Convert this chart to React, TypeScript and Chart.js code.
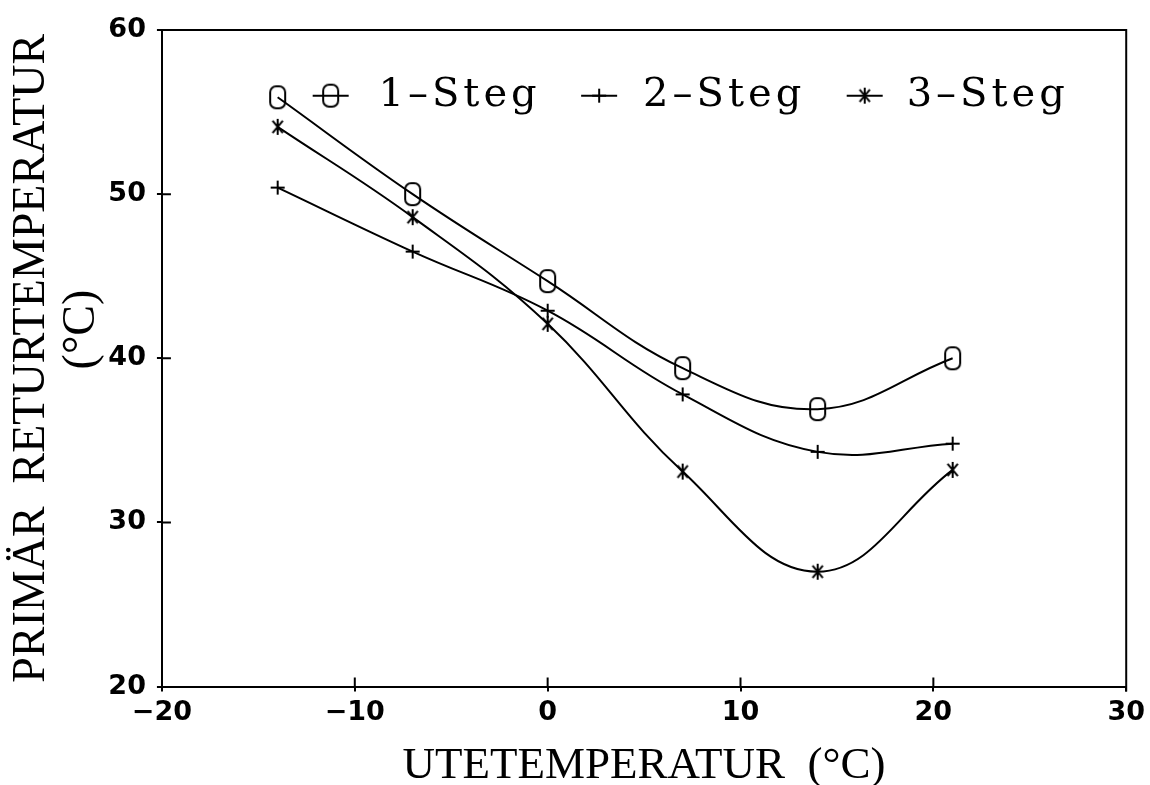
import React, { useEffect, useRef } from 'react';
import { Chart, registerables } from 'chart.js';

Chart.register(...registerables);

// ---- data ----
const xValues = [-14, -7, 0, 7, 14, 21];
const steg1 = [55.9, 50.0, 44.7, 39.4, 36.9, 40.0];
const steg2 = [50.4, 46.5, 42.9, 37.8, 34.3, 34.8];
const steg3 = [54.1, 48.6, 42.1, 33.1, 27.0, 33.2];
const seriesLabels = ['1\u2013Steg', '2\u2013Steg', '3\u2013Steg'];

const xMin = -20;
const xMax = 30;
const xStep = 10;
const yMin = 20;
const yMax = 60;
const yStep = 10;

const xTitle = 'UTETEMPERATUR  (\u00B0C)';
const yTitle = ['PRIM\u00C4R  RETURTEMPERATUR', '     (\u00B0C)'];

// ---- marker images ----
function makeRoundRect(): HTMLCanvasElement {
  const c = document.createElement('canvas');
  c.width = 19;
  c.height = 26;
  const g = c.getContext('2d')!;
  const x = 2, y = 2, w = 15, h = 22, r = 6;
  g.strokeStyle = '#000';
  g.lineWidth = 2;
  g.beginPath();
  g.moveTo(x + r, y);
  g.arcTo(x + w, y, x + w, y + h, r);
  g.arcTo(x + w, y + h, x, y + h, r);
  g.arcTo(x, y + h, x, y, r);
  g.arcTo(x, y, x + w, y, r);
  g.closePath();
  g.stroke();
  return c;
}

function makePlus(): HTMLCanvasElement {
  const c = document.createElement('canvas');
  c.width = 16;
  c.height = 16;
  const g = c.getContext('2d')!;
  g.strokeStyle = '#000';
  g.lineWidth = 2;
  g.beginPath();
  g.moveTo(1, 8); g.lineTo(15, 8);
  g.moveTo(8, 1); g.lineTo(8, 15);
  g.stroke();
  return c;
}

function makeAsterisk(): HTMLCanvasElement {
  const c = document.createElement('canvas');
  c.width = 20;
  c.height = 20;
  const g = c.getContext('2d')!;
  g.strokeStyle = '#000';
  g.lineWidth = 2;
  const cx = 10, cy = 10, r = 8;
  g.beginPath();
  g.moveTo(cx, cy - r); g.lineTo(cx, cy + r);
  const a = (50 * Math.PI) / 180;
  g.moveTo(cx - r * Math.cos(a), cy - r * Math.sin(a));
  g.lineTo(cx + r * Math.cos(a), cy + r * Math.sin(a));
  g.moveTo(cx - r * Math.cos(a), cy + r * Math.sin(a));
  g.lineTo(cx + r * Math.cos(a), cy - r * Math.sin(a));
  g.stroke();
  return c;
}

// legend layout (fractions of the chart area)
const legendMarkerX = [0.175, 0.4534, 0.7288];
const legendTextX = [0.2246, 0.499, 0.7723];
const legendY = 0.1;

const framePlugin = {
  id: 'frameAndInnerTicks',
  afterDraw(chart: any) {
    const { ctx, chartArea, scales } = chart;
    const { left, right, top, bottom } = chartArea;
    ctx.save();
    ctx.strokeStyle = '#000';
    ctx.lineWidth = 2;
    ctx.beginPath();
    ctx.moveTo(left - 1, top);
    ctx.lineTo(right, top);
    ctx.lineTo(right, bottom + 5);
    ctx.stroke();
    // inward ticks
    const xs = scales.x;
    const ys = scales.y;
    ctx.beginPath();
    xs.ticks.forEach((t: any) => {
      if (t.value <= xMin || t.value >= xMax) return;
      const px = xs.getPixelForValue(t.value);
      ctx.moveTo(px, bottom);
      ctx.lineTo(px, bottom - 9);
    });
    ys.ticks.forEach((t: any) => {
      if (t.value <= yMin || t.value >= yMax) return;
      const py = ys.getPixelForValue(t.value);
      ctx.moveTo(left, py);
      ctx.lineTo(left + 9, py);
    });
    ctx.stroke();
    ctx.restore();
  },
};

const legendPlugin = {
  id: 'inlineLegend',
  afterDraw(chart: any) {
    const { ctx, chartArea } = chart;
    const { left, top } = chartArea;
    const w = chartArea.right - chartArea.left;
    const h = chartArea.bottom - chartArea.top;
    const y = top + legendY * h;
    ctx.save();
    chart.data.datasets.forEach((ds: any, i: number) => {
      const mx = left + legendMarkerX[i] * w;
      ctx.strokeStyle = '#000';
      ctx.lineWidth = 2;
      ctx.beginPath();
      ctx.moveTo(mx - 18, y);
      ctx.lineTo(mx + 18, y);
      ctx.stroke();
      const img = ds.pointStyle as HTMLCanvasElement;
      ctx.drawImage(img, mx - img.width / 2, y - img.height / 2);
      ctx.fillStyle = '#000';
      ctx.font = '40px "DejaVu Serif"';
      (ctx as any).letterSpacing = '4px';
      ctx.textAlign = 'left';
      ctx.textBaseline = 'middle';
      ctx.fillText(ds.label, left + legendTextX[i] * w, y);
    });
    ctx.restore();
  },
};

export default function App() {
  const canvasRef = useRef<HTMLCanvasElement | null>(null);

  useEffect(() => {
    if (!canvasRef.current) return;
    const markers = [makeRoundRect(), makePlus(), makeAsterisk()];
    const series = [steg1, steg2, steg3];
    const datasets = series.map((vals, i) => ({
      label: seriesLabels[i],
      data: xValues.map((x, j) => ({ x, y: vals[j] })),
      borderColor: '#000',
      backgroundColor: 'rgba(0,0,0,0)',
      borderWidth: 2,
      tension: 0.4,
      fill: false,
      pointStyle: markers[i],
      pointRadius: 8,
      pointHoverRadius: 8,
    }));

    const tickFont = { family: '"DejaVu Sans"', size: 27, weight: 'bold' as const, lineHeight: 1.2 };
    const fmt = (v: any) => String(v).replace('-', '\u2212');

    const chart = new Chart(canvasRef.current, {
      type: 'line',
      data: { datasets },
      options: {
        responsive: false,
        animation: false,
        layout: { padding: { top: 30, right: 22, left: 0, bottom: 0 } },
        plugins: {
          legend: { display: false },
          tooltip: { enabled: false },
        },
        scales: {
          x: {
            type: 'linear',
            min: xMin,
            max: xMax,
            ticks: {
              stepSize: xStep,
              color: '#000',
              font: tickFont,
              padding: 5,
              maxRotation: 0,
              callback: fmt,
            },
            grid: {
              display: true,
              drawOnChartArea: false,
              drawTicks: true,
              tickLength: 5,
              color: '#000',
              lineWidth: 2,
            },
            border: { display: true, color: '#000', width: 2 },
            title: {
              display: true,
              text: xTitle,
              color: '#000',
              font: { family: '"Liberation Serif"', size: 45, lineHeight: 0.8 },
              padding: { top: 14, bottom: 1 },
            },
          },
          y: {
            type: 'linear',
            min: yMin,
            max: yMax,
            ticks: {
              stepSize: yStep,
              color: '#000',
              font: tickFont,
              padding: 11,
              callback: fmt,
            },
            grid: {
              display: true,
              drawOnChartArea: false,
              drawTicks: true,
              tickLength: 5,
              color: '#000',
              lineWidth: 2,
            },
            border: { display: true, color: '#000', width: 2 },
            title: {
              display: true,
              text: yTitle,
              color: '#000',
              font: { family: '"Liberation Serif"', size: 46, lineHeight: 1.08 },
              padding: { top: 7, bottom: -9 },
            },
          },
        },
      },
      plugins: [framePlugin, legendPlugin],
    });
    return () => chart.destroy();
  }, []);

  return (
    <div style={{ position: 'absolute', left: 0, top: 0, width: 1150, height: 785, background: '#fff' }}>
      <canvas ref={canvasRef} width={1150} height={785} style={{ display: 'block', width: 1150, height: 785 }} />
    </div>
  );
}
